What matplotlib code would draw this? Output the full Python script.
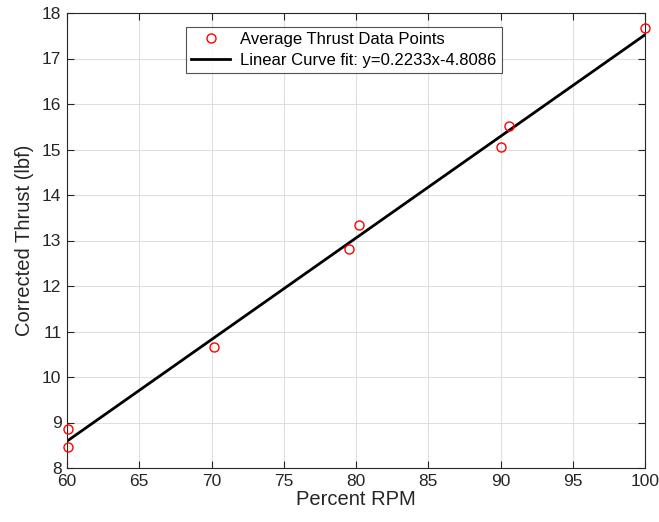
import matplotlib
matplotlib.use("Agg")
import matplotlib.pyplot as plt
import numpy as np

plt.rcParams['font.family'] = ['Liberation Sans', 'DejaVu Sans']

rpm = [60.05, 60.05, 70.2, 79.5, 80.2, 90.05, 90.6, 100.0]
thrust = [8.46, 8.85, 10.66, 12.82, 13.33, 15.05, 15.52, 17.66]
fit_slope = 0.2233
fit_intercept = -4.8086
fit_x = [60, 100]
xticks = [60, 65, 70, 75, 80, 85, 90, 95, 100]
yticks = [8, 9, 10, 11, 12, 13, 14, 15, 16, 17, 18]

fig = plt.figure(figsize=(6.59, 5.22), dpi=100)
ax = fig.add_axes([67/659, 1-468/522, (645-67)/659, (468-13)/522])

ax.plot(rpm, thrust, 'o', mfc='none', mec='red', ms=6.5, mew=1.0,
        label='Average Thrust Data Points', zorder=3, clip_on=False)
fx = np.array(fit_x, dtype=float)
ax.plot(fx, fit_slope*fx + fit_intercept, '-', color='black', lw=2,
        label='Linear Curve fit: y=0.2233x-4.8086', zorder=2)

ax.set_xlim(60, 100)
ax.set_ylim(8, 18)
ax.set_xticks(xticks)
ax.set_yticks(yticks)
ax.grid(True, color='#dfdfdf', lw=0.8)
ax.set_axisbelow(True)
for s in ax.spines.values():
    s.set_color('#262626')
    s.set_linewidth(0.8)
ax.tick_params(direction='in', length=5, width=0.8, colors='#262626',
               labelsize=12.5, top=True, right=True, pad=4)
ax.set_xlabel('Percent RPM', fontsize=14.5, color='#262626', labelpad=1)
ax.set_ylabel('Corrected Thrust (lbf)', fontsize=14.5, color='#262626', labelpad=5.5)

leg = ax.legend(loc='upper center', bbox_to_anchor=(0.479, 0.969), fontsize=12,
                frameon=True, fancybox=False, edgecolor='#262626',
                borderpad=0.3, labelspacing=0.35, handlelength=2.35,
                handletextpad=0.6, borderaxespad=0)
leg.get_frame().set_linewidth(0.8)

fig.savefig('out.png', dpi=100)
